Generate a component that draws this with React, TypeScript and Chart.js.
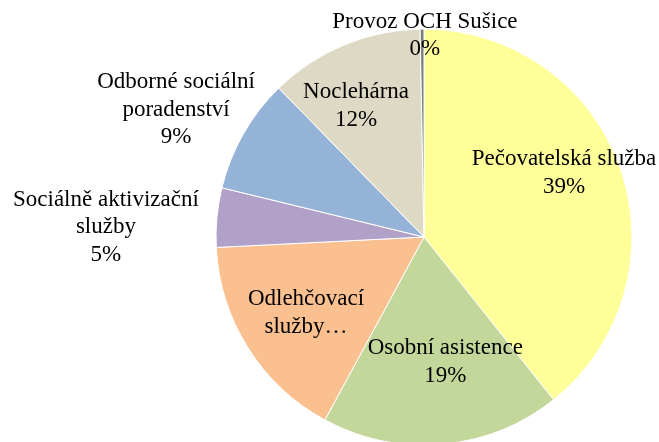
import React, { useEffect, useRef } from "react";
import { Chart, registerables } from "chart.js";

Chart.register(...registerables);

const categories = [
  "Pečovatelská služba",
  "Osobní asistence",
  "Odlehčovací služby",
  "Sociálně aktivizační služby",
  "Odborné sociální poradenství",
  "Noclehárna",
  "Provoz OCH Sušice",
];
const values = [39.3, 18.6, 16.3, 4.6, 8.9, 12.0, 0.3];
const colors = ["#FFFF99", "#C4D79B", "#FAC090", "#B1A0C7", "#95B3D7", "#DDD9C4", "#7F7F7F"];
const labelLines = [
  ["Pečovatelská služba"],
  ["Osobní asistence"],
  ["Odlehčovací", "služby…"],
  ["Sociálně aktivizační", "služby"],
  ["Odborné sociální", "poradenství"],
  ["Noclehárna"],
  ["Provoz OCH Sušice"],
];
const showPercent = [true, true, false, true, true, true, true];
const labelRadius = [0.74, 0.61, 0.675, 1.53, 1.34, 0.71, 0.97];
const labelAngleShiftDeg = [-5.3, -4.6, -0.6, -3.6, -2.5, -4.7, 0.8];

const FONT = "23px 'Liberation Serif', 'DejaVu Serif', serif";
const LINE_H = 27.5;

const labelPlugin = {
  id: "pieLabels",
  afterDatasetsDraw(chart: any) {
    const ctx = chart.ctx;
    const meta = chart.getDatasetMeta(0);
    const total = values.reduce((a, b) => a + b, 0);
    ctx.save();
    ctx.font = FONT;
    ctx.fillStyle = "#000000";
    ctx.textAlign = "center";
    ctx.textBaseline = "middle";
    meta.data.forEach((arc: any, i: number) => {
      const p = arc.getProps(["x", "y", "startAngle", "endAngle", "outerRadius"], true);
      const mid = (p.startAngle + p.endAngle) / 2 + (labelAngleShiftDeg[i] * Math.PI) / 180;
      const r = p.outerRadius * labelRadius[i];
      const cx = p.x + Math.cos(mid) * r;
      const cy = p.y + Math.sin(mid) * r;
      const lines = [...labelLines[i]];
      if (showPercent[i]) lines.push(Math.round((values[i] / total) * 100) + "%");
      const startY = cy - ((lines.length - 1) * LINE_H) / 2;
      lines.forEach((t, k) => ctx.fillText(t, cx, startY + k * LINE_H));
    });
    ctx.restore();
  },
};

export default function App() {
  const ref = useRef<HTMLCanvasElement | null>(null);
  useEffect(() => {
    const chart = new Chart(ref.current as HTMLCanvasElement, {
      type: "pie",
      data: {
        labels: categories,
        datasets: [
          {
            data: values,
            backgroundColor: colors,
            borderColor: "#FFFFFF",
            borderWidth: 1,
            radius: 208,
          } as any,
        ],
      },
      options: {
        responsive: false,
        animation: false,
        layout: { padding: { left: 200, right: 11, top: 32, bottom: 0 } },
        plugins: {
          legend: { display: false },
          tooltip: { enabled: false },
        },
      },
      plugins: [labelPlugin],
    });
    return () => chart.destroy();
  }, []);
  return (
    <div style={{ position: "absolute", left: 0, top: 0, width: 659, height: 442, overflow: "hidden", background: "#fff" }}>
      <canvas ref={ref} width={659} height={442} style={{ display: "block" }} />
    </div>
  );
}
